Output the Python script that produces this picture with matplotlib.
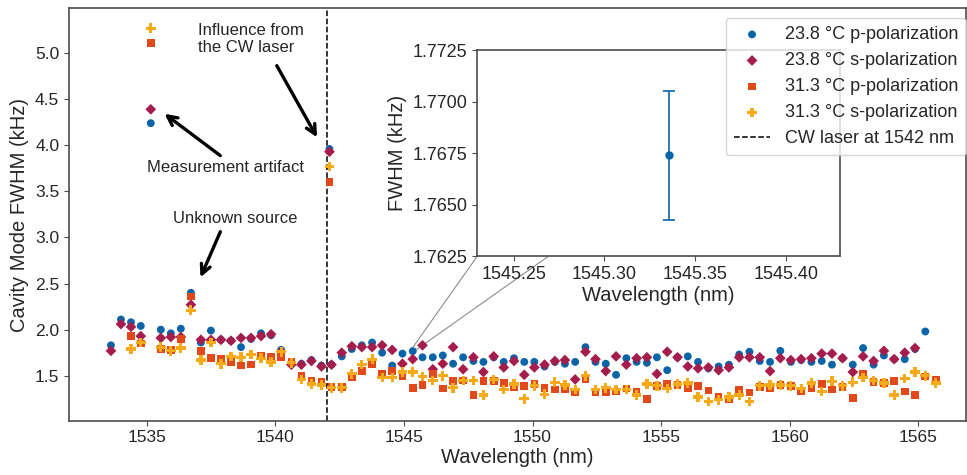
import matplotlib
matplotlib.use("Agg")
import matplotlib.pyplot as plt
from matplotlib.patches import ConnectionPatch, Rectangle
from matplotlib.ticker import FormatStrFormatter
import seaborn as sns

# measured cavity modes (nm), one per grid step
wavelength = [
    1533.60, 1533.99, 1534.38, 1534.76, 1535.15, 1535.54, 1535.93, 1536.32, 1536.71, 1537.10,
    1537.49, 1537.88, 1538.27, 1538.66, 1539.05, 1539.44, 1539.83, 1540.22, 1540.62, 1541.01,
    1541.40, 1541.79, 1542.18, 1542.58, 1542.97, 1543.36, 1543.76, 1544.15, 1544.54, 1544.94,
    1545.34, 1545.72, 1546.12, 1546.51, 1546.91, 1547.30, 1547.70, 1548.09, 1548.49, 1548.88,
    1549.28, 1549.68, 1550.07, 1550.47, 1550.87, 1551.26, 1551.66, 1552.06, 1552.45, 1552.85,
    1553.25, 1553.65, 1554.05, 1554.45, 1554.84, 1555.24, 1555.64, 1556.04, 1556.44, 1556.84,
    1557.24, 1557.64, 1558.04, 1558.44, 1558.84, 1559.24, 1559.64, 1560.05, 1560.45, 1560.85,
    1561.25, 1561.65, 1562.06, 1562.46, 1562.86, 1563.27, 1563.67, 1564.07, 1564.48, 1564.88,
    1565.28, 1565.69]

# 23.8 C p-pol, modes 0..80
fwhm_23_p = [
    1.83, 2.11, 2.08, 2.04, 4.24, 2.00, 1.96, 2.01, 2.40, 1.86,
    1.99, 1.89, 1.88, 1.81, 1.90, 1.96, 1.94, 1.78, 1.63, 1.63,
    1.67, 1.61, 1.62, 1.71, 1.79, 1.83, 1.86, 1.75, 1.61, 1.74,
    1.767, 1.70, 1.70, 1.72, 1.63, 1.70, 1.66, 1.65, 1.70, 1.65,
    1.69, 1.65, 1.65, 1.60, 1.65, 1.63, 1.65, 1.81, 1.65, 1.63,
    1.51, 1.69, 1.65, 1.64, 1.70, 1.56, 1.70, 1.71, 1.65, 1.58,
    1.60, 1.62, 1.73, 1.76, 1.66, 1.65, 1.77, 1.65, 1.67, 1.65,
    1.66, 1.62, 1.69, 1.62, 1.80, 1.62, 1.72, 1.68, 1.68, 1.79,
    1.98]

# 23.8 C s-pol, modes 0..79
fwhm_23_s = [
    1.77, 2.06, 2.03, 1.93, 4.39, 1.91, 1.92, 1.92, 2.27, 1.89,
    1.89, 1.89, 1.88, 1.91, 1.91, 1.93, 1.95, 1.76, 1.62, 1.62,
    1.66, 1.60, 1.62, 1.75, 1.82, 1.81, 1.81, 1.83, 1.78, 1.63,
    1.68, 1.83, 1.57, 1.63, 1.81, 1.57, 1.70, 1.54, 1.71, 1.59,
    1.66, 1.51, 1.59, 1.62, 1.66, 1.67, 1.46, 1.76, 1.68, 1.55,
    1.71, 1.62, 1.69, 1.70, 1.52, 1.76, 1.70, 1.60, 1.58, 1.59,
    1.56, 1.59, 1.70, 1.70, 1.70, 1.55, 1.69, 1.67, 1.68, 1.69,
    1.74, 1.74, 1.69, 1.54, 1.71, 1.66, 1.77, 1.68, 1.75, 1.80]

# 31.3 C p-pol, modes 2..81
fwhm_31_p = [
    1.93, 1.85, 5.11, 1.79, 1.78, 1.90, 2.36, 1.77,
    1.69, 1.68, 1.65, 1.61, 1.62, 1.72, 1.71, 1.70, 1.65, 1.50,
    1.44, 1.43, 1.38, 1.38, 1.48, 1.55, 1.63, 1.52, 1.55, 1.49,
    1.37, 1.40, 1.52, 1.36, 1.44, 1.45, 1.29, 1.44, 1.44, 1.42,
    1.38, 1.39, 1.41, 1.37, 1.35, 1.35, 1.32, 1.46, 1.32, 1.32,
    1.33, 1.36, 1.33, 1.25, 1.39, 1.41, 1.40, 1.37, 1.39, 1.34,
    1.27, 1.25, 1.35, 1.32, 1.38, 1.37, 1.40, 1.39, 1.33, 1.37,
    1.41, 1.35, 1.38, 1.26, 1.52, 1.43, 1.42, 1.44, 1.33, 1.29,
    1.49, 1.46]

# 31.3 C s-pol, modes 2..81
fwhm_31_s = [
    1.79, 1.86, 5.27, 1.81, 1.77, 1.80, 2.21, 1.67,
    1.86, 1.63, 1.71, 1.70, 1.73, 1.69, 1.65, 1.76, 1.64, 1.46,
    1.41, 1.40, 1.37, 1.37, 1.52, 1.62, 1.68, 1.48, 1.48, 1.54,
    1.54, 1.49, 1.45, 1.50, 1.37, 1.45, 1.45, 1.29, 1.46, 1.35,
    1.41, 1.25, 1.39, 1.30, 1.43, 1.40, 1.35, 1.50, 1.35, 1.37,
    1.35, 1.35, 1.29, 1.41, 1.39, 1.36, 1.41, 1.42, 1.27, 1.22,
    1.24, 1.27, 1.29, 1.22, 1.39, 1.40, 1.40, 1.39, 1.36, 1.42,
    1.33, 1.44, 1.39, 1.43, 1.48, 1.45, 1.42, 1.29, 1.47, 1.54,
    1.50, 1.42]

# extra mode right next to the CW laser (same order as the series)
cw_mode_wl = 1542.10
cw_mode_fwhm = [3.96, 3.93, 3.60, 3.77]
cw_laser = 1542

# zoomed point in the inset
zoom_wl = 1545.3355
zoom_fwhm = 1.7674
zoom_err = 0.00313
zoom_xlim = (1545.23, 1545.43)
zoom_ylim = (1.7625, 1.7725)

labels = ['23.8 °C p-polarization', '23.8 °C s-polarization',
          '31.3 °C p-polarization', '31.3 °C s-polarization']
colors = ['#0a64a8', '#a51d4d', '#e2491a', '#f7a916']
markers = ['o', 'D', 's', 'P']
sizes = [32, 30, 30, 48]

sns.set_style('ticks')
plt.rcParams['font.family'] = ['Liberation Sans', 'DejaVu Sans']
plt.rcParams['axes.edgecolor'] = '0.3'
plt.rcParams['axes.linewidth'] = 1.2
plt.rcParams['xtick.color'] = '0.3'
plt.rcParams['ytick.color'] = '0.3'
plt.rcParams['xtick.labelcolor'] = '0.15'
plt.rcParams['ytick.labelcolor'] = '0.15'

fig = plt.figure(figsize=(9.67, 4.75), dpi=100)
ax = fig.add_axes([0.0714, 0.1143, 0.928, 0.868])

series = [
    (wavelength[0:81], fwhm_23_p),
    (wavelength[0:80], fwhm_23_s),
    (wavelength[2:82], fwhm_31_p),
    (wavelength[2:82], fwhm_31_s),
]
handles = []
for i, (x, y) in enumerate(series):
    xs = list(x) + [cw_mode_wl]
    ys = list(y) + [cw_mode_fwhm[i]]
    h = ax.scatter(xs, ys, s=sizes[i], marker=markers[i], color=colors[i],
                   edgecolor='none', label=labels[i], zorder=3)
    handles.append(h)

vl = ax.axvline(cw_laser, color='black', ls='--', lw=1.1, label='CW laser at 1542 nm')
handles.append(vl)

ax.set_xlim(1531.97, 1566.88)
ax.set_ylim(1.012, 5.485)
ax.set_xticks([1535, 1540, 1545, 1550, 1555, 1560, 1565])
ax.set_yticks([1.5, 2.0, 2.5, 3.0, 3.5, 4.0, 4.5, 5.0])
ax.tick_params(labelsize=12.5)
ax.set_xlabel('Wavelength (nm)', fontsize=14.5, labelpad=2, color='0.15')
ax.set_ylabel('Cavity Mode FWHM (kHz)', fontsize=14.5, labelpad=4, color='0.15')

# annotations
arrow = dict(arrowstyle='->', lw=2.4, color='black', mutation_scale=17)
ax.text(1537.0, 5.157, 'Influence from\nthe CW laser', fontsize=12,
        ha='left', va='center', linespacing=1.15, color='0.15')
ax.annotate('', xy=(1541.67, 4.06), xytext=(1540.0, 4.89), arrowprops=arrow)
ax.text(1538.05, 3.763, 'Measurement artifact', fontsize=12, ha='center',
        va='center', color='0.15')
ax.annotate('', xy=(1535.6, 4.36), xytext=(1537.94, 3.87), arrowprops=arrow)
ax.text(1538.44, 3.21, 'Unknown source', fontsize=12, ha='center', va='center',
        color='0.15')
ax.annotate('', xy=(1537.04, 2.54), xytext=(1537.9, 3.09), arrowprops=arrow)

# inset
axin = fig.add_axes([0.4937, 0.461, 0.375, 0.4337])
axin.errorbar([zoom_wl], [zoom_fwhm], yerr=[zoom_err], fmt='o', color=colors[0],
              ms=5, capsize=4, elinewidth=1.2, capthick=1.2)
axin.set_xlim(*zoom_xlim)
axin.set_ylim(*zoom_ylim)
axin.set_xticks([1545.25, 1545.30, 1545.35, 1545.40])
axin.set_yticks([1.7625, 1.7650, 1.7675, 1.7700, 1.7725])
axin.xaxis.set_major_formatter(FormatStrFormatter('%.2f'))
axin.yaxis.set_major_formatter(FormatStrFormatter('%.4f'))
axin.tick_params(labelsize=13)
axin.set_xlabel('Wavelength (nm)', fontsize=14.5, labelpad=2, color='0.15')
axin.set_ylabel('FWHM (kHz)', fontsize=14.5, labelpad=4, color='0.15')

# zoom marker on the main axes; connectors sit under the inset
ax.add_patch(Rectangle((zoom_xlim[0], zoom_ylim[0]), zoom_xlim[1] - zoom_xlim[0],
                       zoom_ylim[1] - zoom_ylim[0], fill=False, ec='0.55', lw=0.8))
for pa, pb in [((zoom_xlim[0], zoom_ylim[0]), (0, 0)),
               ((zoom_xlim[1], zoom_ylim[1]), (1, 1))]:
    con = ConnectionPatch(xyA=pa, coordsA=ax.transData, xyB=pb, coordsB=axin.transAxes,
                          color='0.55', lw=0.8)
    ax.add_artist(con)

fig.legend(handles=handles, loc='upper right', bbox_to_anchor=(0.999, 0.962),
           borderaxespad=0, fontsize=13, frameon=True, markerscale=1.0,
           labelspacing=0.5, borderpad=0.45)

fig.savefig('out.png', dpi=100)
